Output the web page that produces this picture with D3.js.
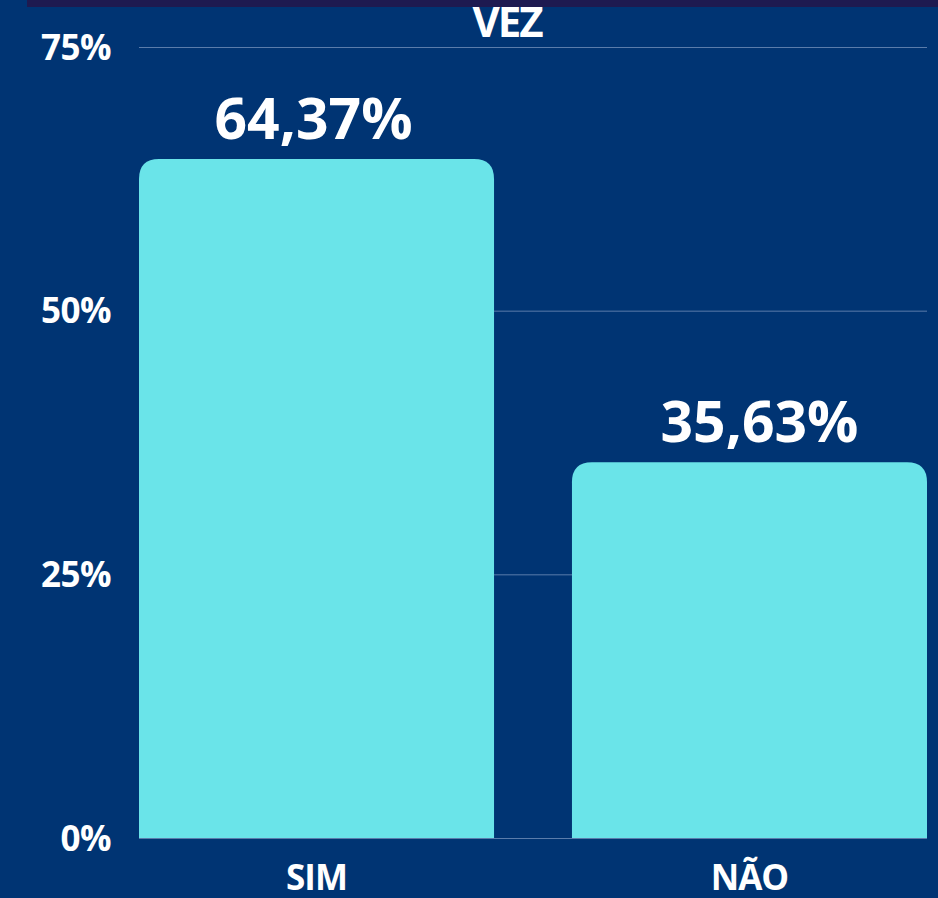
<!DOCTYPE html>
<html>
<head>
<meta charset="utf-8">
<script src="https://cdn.jsdelivr.net/npm/d3@7"></script>
<style>
 body { margin: 0; background: #003473; }
 text { font-family: "Open Sans", sans-serif; font-weight: 700; fill: #fff; }
</style>
</head>
<body>
<svg width="938" height="898"></svg>
<script>
// The svg
var svg = d3.select("svg"),
 width = +svg.attr("width"),
 height = +svg.attr("height");

// Data
var categories = ["SIM", "NÃO"];
var values = [64.37, 35.63];
var valueLabels = ["64,37%", "35,63%"];
var yTicks = [0, 25, 50, 75];
var title = "VEZ";

// background + top strip
svg.append("rect").attr("width", width).attr("height", height).attr("fill", "#003473");
svg.append("rect").attr("x", 27).attr("y", 0).attr("width", width - 27).attr("height", 7).attr("fill", "#1e1a50");

// Scales
var x = d3.scaleBand()
 .domain(categories)
 .range([139, 927])
 .paddingInner(0.18)
 .paddingOuter(0);
var y = d3.scaleLinear()
 .domain([0, 75])
 .range([838, 47]);

// Gridlines
svg.append("g")
 .selectAll("line")
 .data(yTicks)
 .enter().append("line")
 .attr("x1", 139)
 .attr("x2", 927)
 .attr("y1", function (d) { return y(d) + 0.5; })
 .attr("y2", function (d) { return y(d) + 0.5; })
 .attr("stroke", "#5a7cab")
 .attr("stroke-width", 1);

// Y axis labels
svg.append("g")
 .selectAll("text")
 .data(yTicks)
 .enter().append("text")
 .attr("x", 111)
 .attr("y", function (d) { return y(d); })
 .attr("dy", "0.36em")
 .attr("text-anchor", "end")
 .style("font-size", "35px")
 .style("letter-spacing", "-0.5px")
 .text(function (d) { return d + "%"; });

// Bars with rounded top corners
var r = 20;
function barPath(x0, w, top, base) {
 return "M" + x0 + "," + base +
  "V" + (top + r) +
  "Q" + x0 + "," + top + " " + (x0 + r) + "," + top +
  "H" + (x0 + w - r) +
  "Q" + (x0 + w) + "," + top + " " + (x0 + w) + "," + (top + r) +
  "V" + base + "Z";
}
svg.append("g")
 .selectAll("path")
 .data(values)
 .enter().append("path")
 .attr("fill", "#6ae4e9")
 .attr("d", function (d, i) {
  return barPath(x(categories[i]), x.bandwidth(), y(d), y(0));
 });

// Value labels
svg.append("g")
 .selectAll("text")
 .data(values)
 .enter().append("text")
 .attr("x", function (d, i) { return x(categories[i]) + x.bandwidth() / 2 + (i ? 10 : -3); })
 .attr("y", function (d) { return y(d) - 20; })
 .attr("text-anchor", "middle")
 .style("font-size", "57px")
 .text(function (d, i) { return valueLabels[i]; });

// X labels
svg.append("g")
 .selectAll("text")
 .data(categories)
 .enter().append("text")
 .attr("x", function (d) { return x(d) + x.bandwidth() / 2; })
 .attr("y", 890)
 .attr("text-anchor", "middle")
 .style("font-size", "35px")
 .style("letter-spacing", "-1px")
 .text(function (d) { return d; });

// Title (cut at top)
svg.append("text")
 .attr("x", 507)
 .attr("y", 37)
 .attr("text-anchor", "middle")
 .style("font-size", "42px")
 .style("letter-spacing", "-2px")
 .text(title);
</script>
</body>
</html>
